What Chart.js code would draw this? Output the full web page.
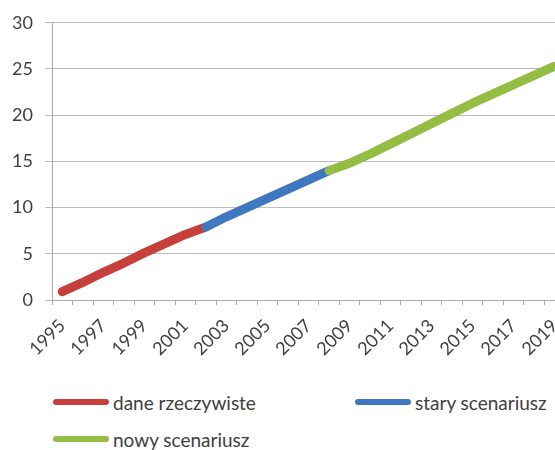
<!DOCTYPE html>
<html>
<head>
<meta charset="utf-8">
<script src="https://cdn.jsdelivr.net/npm/chart.js@4.4.1/dist/chart.umd.min.js"></script>
<style>
  html, body { margin: 0; padding: 0; background: #fff; overflow: hidden; }
  #wrap { position: relative; width: 555px; height: 450px; overflow: hidden; }
  #box { position: absolute; left: 0; top: 0; width: 580px; height: 370px; }
  .legend-item { position: absolute; display: flex; align-items: center; font: 19px Lato, sans-serif; color: #404040; white-space: nowrap; }
  .legend-item i { display: block; width: 56px; height: 6px; border-radius: 3px; margin-right: 4px; }
</style>
</head>
<body>
<div id="wrap">
  <div id="box"><canvas id="growthChart"></canvas></div>
  <div id="legend"></div>
</div>
<script>
// lata na osi X
const years = ['1995', '1996', '1997', '1998', '1999', '2000', '2001', '2002', '2003', '2004',
  '2005', '2006', '2007', '2008', '2009', '2010', '2011', '2012', '2013', '2014',
  '2015', '2016', '2017', '2018', '2019'];

// serie (null = brak punktu w danym roku)
const realData = [0.9, 1.9, 3.0, 4.0, 5.1, 6.1, 7.1, 7.9,
  null, null, null, null, null, null, null, null, null, null, null, null, null, null, null, null, null];
const oldScenario = [null, null, null, null, null, null, null,
  7.9, 9.0, 10.0, 11.0, 12.0, 13.0, 14.0,
  null, null, null, null, null, null, null, null, null, null, null];
const newScenario = [null, null, null, null, null, null, null, null, null, null, null, null, null,
  14.0, 14.8, 15.8, 16.9, 18.0, 19.1, 20.2, 21.3, 22.3, 23.3, 24.3, 25.3];

const seriesLabels = ['dane rzeczywiste', 'stary scenariusz', 'nowy scenariusz'];
const seriesColors = ['#c73f3a', '#3f78c0', '#93bd43'];

// oś Y
const yMin = 0;
const yMax = 30;
const yStep = 5;

const FONT = 'Lato, "Open Sans", sans-serif';
const TEXT = '#404040';
const GRID = '#bdbdbd';
const AXIS = '#a9a9a9';

const makeSet = (i, values) => ({
  label: seriesLabels[i],
  data: values,
  borderColor: seriesColors[i],
  backgroundColor: seriesColors[i],
  borderWidth: 9,
  borderCapStyle: 'round',
  borderJoinStyle: 'round',
  pointRadius: 0,
  pointHoverRadius: 0,
  tension: 0,
  spanGaps: false,
  order: 2 - i, // kolejne serie rysowane na wierzchu
});

const chart = new Chart(document.getElementById('growthChart'), {
  type: 'line',
  data: {
    labels: years,
    datasets: [makeSet(0, realData), makeSet(1, oldScenario), makeSet(2, newScenario)],
  },
  options: {
    responsive: true,
    maintainAspectRatio: false,
    animation: false,
    layout: { padding: { top: 21, right: 4, left: 0, bottom: 0 } },
    plugins: {
      legend: { display: false },
      tooltip: { enabled: false },
    },
    scales: {
      x: {
        type: 'category',
        offset: true,
        grid: {
          offset: true,
          drawOnChartArea: false,
          drawTicks: true,
          tickLength: 5,
          color: AXIS,
        },
        border: { display: true, color: AXIS, width: 1 },
        ticks: {
          autoSkip: false,
          minRotation: 45,
          maxRotation: 45,
          padding: 10,
          color: TEXT,
          font: { family: FONT, size: 18 },
          callback: (value, index) => (index % 2 === 0 ? years[index] : ''),
        },
        afterFit: (scale) => { scale.height = 70; },
      },
      y: {
        min: yMin,
        max: yMax,
        grid: {
          color: GRID,
          lineWidth: 1,
          drawTicks: true,
          tickLength: 7,
        },
        border: { display: true, color: AXIS, width: 1 },
        ticks: {
          stepSize: yStep,
          padding: 12,
          color: TEXT,
          font: { family: FONT, size: 18 },
        },
        afterFit: (scale) => { scale.width = 52; },
      },
    },
  },
});

// legenda pod wykresem, dwie kolumny
const legendSlots = [
  { left: 53, top: 402 },
  { left: 355, top: 402 },
  { left: 53, top: 439 },
];
const legend = document.getElementById('legend');
chart.data.datasets.forEach((ds, i) => {
  const item = document.createElement('div');
  item.className = 'legend-item';
  item.style.left = legendSlots[i].left + 'px';
  item.style.top = (legendSlots[i].top - 12) + 'px';
  item.style.height = '24px';
  const swatch = document.createElement('i');
  swatch.style.background = ds.borderColor;
  const text = document.createElement('span');
  text.textContent = ds.label;
  item.appendChild(swatch);
  item.appendChild(text);
  legend.appendChild(item);
});
</script>
</body>
</html>
